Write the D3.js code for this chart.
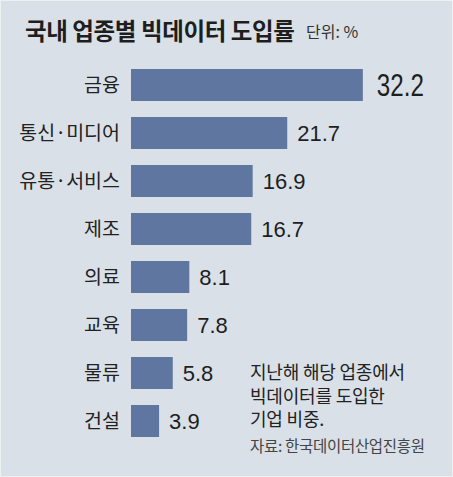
<!DOCTYPE html>
<html>
<head>
<meta charset="utf-8">
<script src="https://cdn.jsdelivr.net/npm/d3@7"></script>
<style>
  html, body { margin: 0; padding: 0; background: #d9e0e7; }
  svg { display: block; }
</style>
</head>
<body>
<div id="chart"></div>
<script>
// 국내 업종별 빅데이터 도입률 (단위: %)
const categories = ["금융", "통신·미디어", "유통·서비스", "제조", "의료", "교육", "물류", "건설"];
const values = [32.2, 21.7, 16.9, 16.7, 8.1, 7.8, 5.8, 3.9];
const noteLines = ["지난해 해당 업종에서", "빅데이터를 도입한", "기업 비중."];
const sourceText = "자료: 한국데이터산업진흥원";

const width = 453, height = 477;
const kr = "'Noto Sans CJK KR', 'Noto Sans', sans-serif";
const num = "'Liberation Sans', Arial, sans-serif";

const svg = d3.select("#chart").append("svg")
	.attr("width", width)
	.attr("height", height);

svg.append("rect")
	.attr("x", 0.5).attr("y", 0.5)
	.attr("width", width - 1).attr("height", height - 1)
	.attr("fill", "#d9e0e7")
	.attr("stroke", "#eef1f4");

// title
svg.append("text")
	.attr("x", 25).attr("y", 40)
	.attr("font-family", kr)
	.attr("font-weight", "bold")
	.attr("font-size", 23.5)
	.attr("letter-spacing", -0.4)
	.attr("fill", "#1e1e1e")
	.text("국내 업종별 빅데이터 도입률");

svg.append("text")
	.attr("x", 306).attr("y", 38)
	.attr("font-family", kr)
	.attr("font-size", 16)
	.attr("fill", "#333")
	.text("단위: %");

const x = d3.scaleLinear()
	.domain([0, 35])
	.range([131, 131 + 35 * 7.2]);

const y = d3.scaleBand()
	.domain(categories)
	.range([61, 445])
	.paddingInner(1 / 3)
	.paddingOuter(1 / 6);

const rows = categories.map((c, i) => ({ name: c, value: values[i] }));

svg.selectAll("rect.bar")
	.data(rows)
	.enter()
	.append("rect")
	.attr("class", "bar")
	.attr("x", x(0))
	.attr("y", d => y(d.name))
	.attr("width", d => x(d.value) - x(0))
	.attr("height", y.bandwidth())
	.attr("fill", "#5f76a0");

svg.selectAll("text.cat")
	.data(rows)
	.enter()
	.append("text")
	.attr("class", "cat")
	.attr("x", x(0) - 11)
	.attr("y", d => y(d.name) + y.bandwidth() / 2)
	.attr("dy", "0.38em")
	.attr("text-anchor", "end")
	.attr("font-family", kr)
	.attr("font-size", 19.5)
	.attr("fill", "#222")
	.text(d => d.name);

// value labels, the top one is bigger and condensed
const vals = svg.selectAll("text.val")
	.data(rows)
	.enter()
	.append("text")
	.attr("class", "val")
	.attr("x", (d, i) => x(d.value) + (i === 0 ? 14 : 10))
	.attr("y", d => y(d.name) + y.bandwidth() / 2)
	.attr("dy", "0.36em")
	.attr("font-family", num)
	.attr("font-size", (d, i) => i === 0 ? 31 : 22)
	.attr("fill", "#1e1e1e")
	.text(d => d.value.toFixed(1));

vals.filter((d, i) => i === 0)
	.attr("textLength", 47)
	.attr("lengthAdjust", "spacingAndGlyphs");

// note
svg.selectAll("text.note")
	.data(noteLines)
	.enter()
	.append("text")
	.attr("class", "note")
	.attr("x", 250)
	.attr("y", (d, i) => 379 + i * 23.5)
	.attr("font-family", kr)
	.attr("font-size", 18)
	.attr("letter-spacing", -0.2)
	.attr("fill", "#222")
	.text(d => d);

svg.append("text")
	.attr("x", 250).attr("y", 452)
	.attr("font-family", kr)
	.attr("font-size", 15.5)
	.attr("letter-spacing", -0.3)
	.attr("fill", "#444")
	.text(sourceText);
</script>
</body>
</html>
